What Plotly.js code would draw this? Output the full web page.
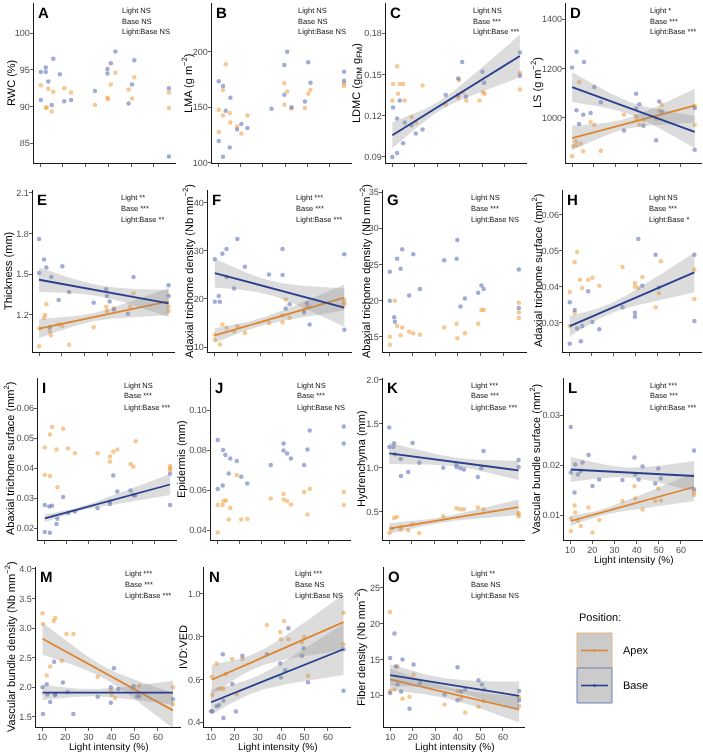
<!DOCTYPE html>
<html><head><meta charset="utf-8">
<script src="https://cdn.plot.ly/plotly-3.0.1.min.js"></script>
<style>
body{margin:0;background:#fff}
#chart{width:703px;height:752px;will-change:transform}
svg text{text-rendering:geometricPrecision}
</style>
</head><body><div id="chart"></div>
<script>
// ---------------- DATA ----------------
const LIGHT_TICKS = [10, 20, 30, 40, 50, 60];

const A_apex_x = [10.3,12.5,12.9,13.6,15.1,15.8,20.6,23.6,34.1,39.6,39.9,41.1,43.1,48.9,50.4,51.4,66.6,66.6];
const A_apex_y = [92.9,89.8,89.9,92.4,89.3,92.0,92.5,91.9,90.2,91.2,91.0,93.0,94.6,92.3,91.1,94.0,91.9,89.8];
const A_base_x = [10.3,10.3,12.5,12.5,13.6,15.1,15.8,18.7,20.6,23.6,34.1,39.6,39.6,41.1,43.1,48.9,50.4,51.4,66.6,66.6];
const A_base_y = [94.7,90.9,94.7,95.3,93.4,90.2,96.5,94.4,90.7,90.9,92.1,94.5,95.1,95.9,97.5,90.4,93.0,96.3,92.5,83.2];
const A_yticks = [85, 90, 95, 100];
const A_stats = ['Light NS', 'Base NS', 'Light:Base NS'];

const B_apex_x = [10.3,10.3,12.2,12.2,13.4,15.2,15.5,18.5,20.4,23.1,39.6,39.6,40.9,42.8,48.8,50.3,51.3,66.3,66.3];
const B_apex_y = [147.8,127.8,165.7,142.7,188.7,144.8,136.4,132.8,126.3,142.7,171.6,152.2,164.2,148.7,149.3,162.1,165.7,169.3,171.6];
const B_base_x = [10.3,10.3,12.2,12.2,13.4,15.2,15.5,18.5,20.4,23.1,33.9,39.6,39.6,40.9,42.8,48.8,50.3,51.3,66.3,66.3];
const B_base_y = [173.4,119.7,169.3,105.5,146.9,113.7,158.5,129.9,134.9,131.3,148.7,161.2,188.1,200,150.1,155.2,190.7,172.2,182.1,174.0];
const B_yticks = [100, 150, 200];
const B_stats = ['Light NS', 'Base NS', 'Light:Base NS'];

const C_apex_x = [10.1,10.4,12.2,12.6,13.4,14.9,15.6,18.6,20.5,23.5,33.8,39.3,39.7,41.2,42.9,48.8,50.3,51.0,66.7,66.7];
const C_apex_y = [0.131,0.143,0.156,0.136,0.143,0.143,0.131,0.119,0.115,0.142,0.128,0.133,0.146,0.137,0.131,0.131,0.137,0.136,0.151,0.139];
const C_base_x = [10.1,10.4,12.2,12.2,13.4,14.9,15.6,18.6,20.5,23.5,33.8,39.3,39.3,41.1,42.7,50.1,50.8,66.7,66.7];
const C_base_y = [0.0900,0.126,0.118,0.0929,0.131,0.100,0.115,0.113,0.107,0.110,0.135,0.147,0.135,0.159,0.134,0.152,0.144,0.149,0.166];
const C_base_fit = [0.1058, 0.1635, 0.0095, 0.0035, 0.0155]; // y at min x, y at max x, band half-width left / narrowest / right
const C_yticks = [0.09, 0.12, 0.15, 0.18];
const C_stats = ['Light NS', 'Base ***', 'Light:Base ***'];

const D_apex_x = [10,10.5,11.7,12,13.2,14,15.1,18.5,20.2,23.2,33.8,39.4,39.7,40.9,42.8,48.6,50,51.2,66.3,66.3];
const D_apex_y = [845,886,906,890,1145,897,866,984,973,868,1013,1007,996,973,993,996,1030,1054,973,1050];
const D_base_x = [10,12,12,13.2,15.1,15.5,18.5,20.2,23.2,33.8,39.4,39.4,40.9,42.8,48.6,50,51.2,66.3,66.3];
const D_base_y = [1204,1268,1031,976,1013,1226,1020,1125,1064,949,1098,1038,1056,969,910,1067,1026,1040,872];
const D_apex_fit = [919, 1050, 50, 20, 68];
const D_base_fit = [1125, 944, 60, 25, 65];
const D_yticks = [1000, 1200, 1400];
const D_stats = ['Light *', 'Base ***', 'Light:Base ***'];

const E_apex_x = [10,10.2,12.2,12.6,13.2,14.7,15.2,18.6,20.2,23.2,34,39.5,39.8,42.9,50,51.5,66.9,66.9];
const E_apex_y = [0.97,1.10,1.18,1.20,1.28,1.08,1.05,1.13,1.12,0.98,1.11,1.26,1.23,1.25,1.26,1.36,1.26,1.23];
const E_base_x = [10,10,12.2,13.2,14.7,15.4,18.6,20.2,23.2,34,39.5,39.8,41,42.9,49,51.5,66.9,66.9];
const E_base_y = [1.76,1.51,1.61,1.55,1.11,1.48,1.31,1.56,1.37,1.29,1.39,1.34,1.30,1.24,1.21,1.48,1.42,1.34];
const E_apex_fit = [1.10, 1.30, 0.07, 0.03, 0.10];
const E_base_fit = [1.46, 1.285, 0.09, 0.04, 0.10];
const E_yticks = [1.2, 1.5, 1.8, 2.1];
const E_stats = ['Light **', 'Base ***', 'Light:Base **'];

const F_apex_x = [10.3,10.3,12.5,13.6,15.4,18.7,20.1,23.4,33.9,39.8,39.8,41.2,42.9,49.2,50.4,51.6,66.7,66.7,66.7];
const F_apex_y = [12.6,11.5,10.5,14.7,14.0,13.3,14.3,12.9,15.0,15.1,16.6,19.9,16.1,17.7,18.2,18.4,19.2,19.8,18.9];
const F_base_x = [10.3,10.3,12,12.5,13.6,15.4,15.4,18.7,20.1,23.4,33.9,39.8,39.8,41.2,42.9,49.2,50.4,51.6,66.7,66.7];
const F_base_y = [28.3,19.4,20.6,19.4,29.4,30.4,24.6,22.2,32.5,26.7,25.1,30.4,25.0,18.0,18.9,17.2,19.1,14.7,29.3,13.6];
const F_apex_fit = [12.4, 20.3, 1.5, 0.8, 2.7];
const F_base_fit = [25.4, 18.2, 3.0, 1.5, 4.0];
const F_yticks = [10, 20, 30, 40];
const F_stats = ['Light ***', 'Base ***', 'Light:Base ***'];

const G_apex_x = [10.3,10.3,12.5,13.5,15,15.7,18.7,20.5,23.4,34,39.4,39.7,43,48.8,50.2,51.2,66.5,66.5,66.5];
const G_apex_y = [15.0,13.9,20.0,16.5,15.2,16.3,15.7,15.5,15.3,16.3,16.8,14.8,15.5,16.8,18.7,18.7,18.4,19.7,17.6];
const G_base_x = [10.3,10.3,12.2,12.5,13.5,15,15.7,18.7,20.5,23.4,34,39.4,39.7,41.1,43,48.8,50.2,51.2,66.5,66.5];
const G_base_y = [24.0,20.0,17.7,17.1,25.8,24.4,27.1,20.7,26.4,21.6,25.6,25.8,28.4,19.2,20.3,21.1,22.1,21.6,19.0,24.3];
const G_yticks = [15, 20, 25, 30, 35];
const G_stats = ['Light NS', 'Base ***', 'Light:Base NS'];

const H_apex_x = [10.3,10.3,12.5,13.6,12.5,14.9,15.9,18.6,20.5,23.6,34.1,39.7,39.7,41.2,43,49,50.5,51.4,66.5,66.5];
const H_apex_y = [0.0386,0.0291,0.0468,0.0497,0.0328,0.0420,0.0397,0.0420,0.0425,0.0403,0.0455,0.0411,0.0400,0.0397,0.0427,0.0343,0.0383,0.0471,0.0448,0.0366];
const H_base_x = [10.3,10.3,12.5,13.6,15.3,15.9,18.6,20.5,23.6,34.1,39.7,39.7,41.2,43,49,50.5,66.5,66.5];
const H_base_y = [0.0357,0.0242,0.0336,0.0284,0.0249,0.0291,0.0388,0.0302,0.0282,0.0343,0.0328,0.0317,0.0533,0.0403,0.0489,0.0398,0.0489,0.0305];
const H_base_fit = [0.0291, 0.0440, 0.0028, 0.0014, 0.0055];
const H_yticks = [0.03, 0.04, 0.05, 0.06];
const H_stats = ['Light NS', 'Base ***', 'Light:Base *'];

const I_apex_x = [10.3,10.3,12.6,12.6,13.6,15.6,16,18.6,20.8,23.9,34.1,39.7,39.7,41.2,43,49,50.2,51.3,66.8,66.8,66.8];
const I_apex_y = [0.0468,0.0377,0.0512,0.0373,0.0537,0.0462,0.0336,0.0531,0.0465,0.0449,0.0449,0.0438,0.0421,0.0454,0.0462,0.0413,0.0404,0.0489,0.0407,0.0399,0.0393];
const I_base_x = [10.3,10.3,12.3,12.6,13.6,15.6,16,18.6,20.8,23.9,34.1,39.7,39.7,41.2,43,49,50.2,51,66.8,66.8];
const I_base_y = [0.0277,0.0187,0.0272,0.0184,0.0274,0.0213,0.0231,0.0303,0.0250,0.0255,0.0266,0.0280,0.0288,0.0375,0.0322,0.0325,0.0310,0.0308,0.0381,0.0277];
const I_base_fit = [0.0232, 0.0345, 0.0013, 0.0006, 0.0035];
const I_yticks = [0.02, 0.03, 0.04, 0.05, 0.06];
const I_stats = ['Light NS', 'Base ***', 'Light:Base ***'];

const J_apex_x = [10.3,10.3,12.5,12.9,14,15.2,15.9,18.8,20.8,23.5,34,39.7,39.7,41.3,43,48.9,50.4,51.4,66.6,66.6];
const J_apex_y = [0.0388,0.0525,0.0525,0.0545,0.0548,0.0452,0.0510,0.0675,0.0452,0.0455,0.0558,0.0580,0.0552,0.0545,0.0527,0.0590,0.0478,0.0605,0.0590,0.0525];
const J_base_x = [10.3,10.3,12.5,12.7,13.7,15.2,15.9,18.8,20.8,23.5,34,39.7,39.7,41.3,43,48.9,50.4,51.4,66.6,66.6];
const J_base_y = [0.085,0.0605,0.0622,0.080,0.0775,0.0683,0.0758,0.0745,0.0666,0.0633,0.0725,0.0833,0.0797,0.0783,0.0758,0.0725,0.0803,0.0897,0.0917,0.0833];
const J_yticks = [0.04, 0.06, 0.08, 0.10];
const J_stats = ['Light NS', 'Base ***', 'Light:Base NS'];

const K_apex_x = [10.1,11.2,12.2,13.4,15.1,15.2,18.4,20.3,23.3,33.8,39.6,41.3,42.9,49,51.5,66.9,66.9,66.9];
const K_apex_y = [0.26,0.31,0.43,0.44,0.30,0.33,0.29,0.36,0.26,0.45,0.54,0.53,0.53,0.55,0.53,0.49,0.45,0.47];
const K_base_x = [10.1,10.1,11.9,12.2,12.6,15.1,15.2,18.4,20.3,23.3,33.8,39.6,39.6,41.3,42.9,49,50.5,51.5,66.9,66.9];
const K_base_y = [1.457,1.237,1.237,1.278,1.153,1.10,0.906,0.952,1.282,1.058,1.0,1.039,1.009,0.994,0.982,0.895,0.994,1.19,1.088,1.009];
const K_apex_fit = [0.31, 0.553, 0.06, 0.03, 0.09];
const K_base_fit = [1.164, 0.971, 0.12, 0.05, 0.11];
const K_yticks = [0.5, 1.0, 1.5, 2.0];
const K_stats = ['Light ***', 'Base ***', 'Light:Base ***'];

const L_apex_x = [10.3,10.3,12,12.3,13.5,14.8,18.3,20.1,23.1,33.6,39,39.4,42.7,48.4,49.8,50.9,65.9,65.9];
const L_apex_y = [0.0068,0.0093,0.0119,0.0105,0.0089,0.0078,0.0115,0.0065,0.0090,0.0128,0.0158,0.0133,0.0111,0.0128,0.0153,0.0129,0.0145,0.0140];
const L_base_x = [10.3,10.3,12,12.3,13.5,14.8,15.6,18.3,20.1,23.1,33.6,39,39.4,40.9,42.7,48.4,49.8,50.9,65.9,65.9];
const L_base_y = [0.0185,0.0276,0.0145,0.0201,0.0181,0.0188,0.0205,0.0220,0.0158,0.0171,0.0170,0.0215,0.0181,0.0171,0.0197,0.0163,0.0193,0.0173,0.0229,0.0151];
const L_apex_fit = [0.0088, 0.0156, 0.0010, 0.0006, 0.0028];
const L_base_fit = [0.0191, 0.0178, 0.0025, 0.0010, 0.0030];
const L_yticks = [0.01, 0.02, 0.03];
const L_stats = ['Light ***', 'Base ***', 'Light:Base ***'];

const M_apex_x = [10.2,10.4,12,13.5,15,15.7,18.5,20.5,23.5,34,39.7,40,41.5,49,52,66.5,66.5];
const M_apex_y = [3.25,3.07,2.2,2.35,3.12,3.17,2.45,2.9,2.9,2.18,1.95,1.87,1.82,1.98,2.03,2.0,1.72];
const M_base_x = [10.2,10.4,12,12.3,13.5,15.2,15.5,15.7,19,21,23.5,34,39.7,39.7,41,43,49.5,51,52,66.5];
const M_base_y = [2.0,1.55,2.05,1.88,1.75,2.43,1.87,1.88,2.08,1.92,1.55,1.84,2.0,1.74,2.32,1.97,2.02,1.85,1.85,1.8];
const M_apex_fit = [2.82, 1.61, 0.27, 0.10, 0.30];
const M_base_fit = [1.91, 1.91, 0.13, 0.06, 0.20];
const M_yticks = [1.5, 2.0, 2.5, 3.0, 3.5, 4.0];
const M_stats = ['Light ***', 'Base ***', 'Light:Base ***'];

const N_apex_x = [10.3,10.5,12.4,13.1,14.3,15.3,16.3,19.1,21,23.4,33.9,39.6,39.9,41.3,43.1,48.9,49.9,51.5,66.7,66.7];
const N_apex_y = [0.612,0.527,0.674,0.555,0.558,0.555,0.625,0.695,0.53,0.695,0.855,0.822,0.788,0.873,0.788,0.772,0.798,0.617,0.912,0.764];
const N_base_x = [10,10.6,12.4,13.4,15.3,15.3,15.0,19.1,20.6,23.4,33.9,39.6,39.9,41.7,43.1,48.9,49.6,51.5,66.7,66.7];
const N_base_y = [0.451,0.451,0.474,0.48,0.419,0.50,0.718,0.578,0.45,0.71,0.718,0.674,0.609,0.643,0.839,0.71,0.746,0.586,0.547,0.741];
const N_apex_fit = [0.598, 0.868, 0.07, 0.035, 0.13];
const N_base_fit = [0.493, 0.741, 0.06, 0.035, 0.12];
const N_yticks = [0.4, 0.6, 0.8, 1.0];
const N_stats = ['Light ***', 'Base NS', 'Light:Base NS'];

const O_apex_x = [10,10,11.9,13.3,15.5,18.6,20.4,34.1,39.9,41.4,43.3,49.2,51.4,67.2,67.2];
const O_apex_y = [21.6,10.6,10.8,14.0,9.5,9.8,12.9,8.7,10.6,9.5,7.6,8.4,9.2,8.5,9.7];
const O_base_x = [10,10,11.9,12.5,13.3,14.9,15.5,18.6,20.4,23.3,34.1,39.9,39.9,41.4,43.3,49.2,50.7,51.7,67.2,67.2];
const O_base_y = [15.2,10.3,18.6,14.0,11.5,10.5,15.0,8.1,14.3,11.7,10.1,13.9,9.3,10.5,10.8,12.1,11.5,10.8,10.6,9.3];
const O_apex_fit = [12.2, 8.0, 1.5, 0.8, 1.8];
const O_base_fit = [12.8, 9.9, 1.5, 0.8, 2.0];
const O_yticks = [10, 15, 20, 25];
const O_stats = ['Light **', 'Base NS', 'Light:Base NS'];

const X_TITLE = 'Light intensity (%)';
const LEGEND_TITLE = 'Position:';
const SERIES_NAMES = ['Apex', 'Base'];

// ---------------- STYLE / LAYOUT ----------------
const W = 703, H = 752;
const FONT = 'Liberation Sans, Arial, Helvetica, sans-serif';
const APEX_LINE = '#DE8530', BASE_LINE = '#283E8E';
const APEX_PT = '#EE9A3A', BASE_PT = '#5268AE';
const RIBBON = 'rgba(150,150,150,0.33)';
const px2x = p => p / W;
const py2y = p => 1 - p / H;

// [letter, apex x, apex y, base x, base y, apex fit, base fit, yticks, fmt, stats, y title, box(px: left,right,top,bottom), y range, title x px, x labels]
const P = [
 ['A',A_apex_x,A_apex_y,A_base_x,A_base_y,null,null,A_yticks,'d',A_stats,'RWC (%)',[33.6,176.3,3,163],[82.3,104.1],12,false],
 ['B',B_apex_x,B_apex_y,B_base_x,B_base_y,null,null,B_yticks,'d',B_stats,'LMA (g m<sup>−2</sup>)',[211.7,352,3,163],[99.8,244],188,false],
 ['C',C_apex_x,C_apex_y,C_base_x,C_base_y,null,C_base_fit,C_yticks,'.2f',C_stats,'LDMC (g<sub>DM</sub> g<sub>FM</sub>)',[385.7,527,3,163],[0.0856,0.202],358,false],
 ['D',D_apex_x,D_apex_y,D_base_x,D_base_y,D_apex_fit,D_base_fit,D_yticks,'d',D_stats,'LS (g m<sup>−2</sup>)',[565.9,702.4,3,163],[818,1465],537,false],
 ['E',E_apex_x,E_apex_y,E_base_x,E_base_y,E_apex_fit,E_base_fit,E_yticks,'.1f',E_stats,'Thickness (mm)',[32.6,175.3,190,352],[0.927,2.122],9,false],
 ['F',F_apex_x,F_apex_y,F_base_x,F_base_y,F_apex_fit,F_base_fit,F_yticks,'d',F_stats,'Adaxial trichome density (Nb mm<sup>−2</sup>)',[207.6,351.5,190,352],[8.96,42.7],188,false],
 ['G',G_apex_x,G_apex_y,G_base_x,G_base_y,null,null,G_yticks,'d',G_stats,'Abaxial trichome density (Nb mm<sup>−2</sup>)',[382.6,526.5,190,352],[12.9,35.3],365,false],
 ['H',H_apex_x,H_apex_y,H_base_x,H_base_y,null,H_base_fit,H_yticks,'.2f',H_stats,'Adaxial trichome surface (mm<sup>2</sup>)',[562.8,701.8,190,352],[0.0219,0.0669],537,false],
 ['I',I_apex_x,I_apex_y,I_base_x,I_base_y,null,I_base_fit,I_yticks,'.2f',I_stats,'Abaxial trichome surface (mm<sup>2</sup>)',[37.8,176.8,378,540],[0.016,0.070],9,false],
 ['J',J_apex_x,J_apex_y,J_base_x,J_base_y,null,null,J_yticks,'.2f',J_stats,'Epidermis (mm)',[210.7,351,378,540],[0.035,0.116],182,false],
 ['K',K_apex_x,K_apex_y,K_base_x,K_base_y,K_apex_fit,K_base_fit,K_yticks,'.1f',K_stats,'Hydrenchyma (mm)',[382.6,525.3,378,540],[0.18,2.02],362,false],
 ['L',L_apex_x,L_apex_y,L_base_x,L_base_y,L_apex_fit,L_base_fit,L_yticks,'.2f',L_stats,'Vascular bundle surface (mm<sup>2</sup>)',[563.8,702.8,378,540],[0.005,0.0374],535,true],
 ['M',M_apex_x,M_apex_y,M_base_x,M_base_y,M_apex_fit,M_base_fit,M_yticks,'.1f',M_stats,'Vascular bundle density (Nb mm<sup>−2</sup>)',[35.5,180.7,567,727],[1.33,4.03],10,true],
 ['N',N_apex_x,N_apex_y,N_base_x,N_base_y,N_apex_fit,N_base_fit,N_yticks,'.1f',N_stats,'IVD:VED',[204.4,350.9,567,727],[0.377,1.126],184,true],
 ['O',O_apex_x,O_apex_y,O_base_x,O_base_y,O_apex_fit,O_base_fit,O_yticks,'d',O_stats,'Fiber density (Nb mm<sup>−2</sup>)',[383.7,525.1,567,727],[5.56,27.9],360,true],
];

const traces = [], annotations = [], shapes = [];
const layout = {
  width: W, height: H, margin: {l:0, r:0, t:0, b:0},
  paper_bgcolor: 'rgba(255,255,255,0)', plot_bgcolor: 'rgba(0,0,0,0)',
  showlegend: false, font: {family: FONT, color: '#000'},
  annotations, shapes
};

function fitBand(xs, fit) {
  const x0 = Math.min(...xs), x1 = Math.max(...xs);
  const [ya, yb, hL, h0, hR] = fit;
  const a = Math.max(hL*hL - h0*h0, 1e-14), b = Math.max(hR*hR - h0*h0, 1e-14);
  const r = Math.sqrt(a / b);
  const xb = (x0 + r * x1) / (1 + r);
  const k = a / Math.pow(xb - x0, 2);
  const up = [], lo = [], gx = [];
  const n = 60;
  for (let i = 0; i <= n; i++) {
    const x = x0 + (x1 - x0) * i / n;
    const yc = ya + (yb - ya) * (x - x0) / (x1 - x0);
    const hw = Math.sqrt(h0*h0 + k * (x - xb) * (x - xb));
    gx.push(x); up.push(yc + hw); lo.push(yc - hw);
  }
  return {band: {x: gx.concat(gx.slice().reverse()), y: up.concat(lo.slice().reverse())},
          line: {x: [x0, x1], y: [ya, yb]}};
}

P.forEach((p, i) => {
  const [L, ax, ay, bx, by, af, bf, yt, fmt, stats, ytitle, box, yr, tx, xlab] = p;
  const n = i + 1;
  const xa = 'x' + (n === 1 ? '' : n), ya = 'y' + (n === 1 ? '' : n);
  const xk = 'xaxis' + (n === 1 ? '' : n), yk = 'yaxis' + (n === 1 ? '' : n);
  const [l, r, t, b] = box;
  layout[xk] = {
    domain: [px2x(l), px2x(r)], anchor: ya, range: [7.15, 69.85],
    showline: true, linecolor: '#1a1a1a', linewidth: 1, mirror: false,
    showgrid: false, zeroline: false, ticks: 'outside', ticklen: 3, tickwidth: 0.8, tickcolor: '#333',
    tickvals: LIGHT_TICKS, showticklabels: xlab, ticklabelstandoff: -2,
    tickfont: {family: FONT, size: 9, color: '#4D4D4D'}, fixedrange: true
  };
  layout[yk] = {
    domain: [py2y(b), py2y(t)], anchor: xa, range: yr,
    showline: true, linecolor: '#1a1a1a', linewidth: 1,
    showgrid: false, zeroline: false, ticks: 'outside', ticklen: 3, tickwidth: 0.8, tickcolor: '#333',
    tickvals: yt, tickformat: fmt, ticklabelstandoff: -2,
    tickfont: {family: FONT, size: 9, color: '#4D4D4D'}, fixedrange: true
  };
  traces.push({type: 'scatter', mode: 'markers', x: ax, y: ay, xaxis: xa, yaxis: ya,
    marker: {size: 4.5, color: APEX_PT, opacity: 0.55}, hoverinfo: 'skip'});
  traces.push({type: 'scatter', mode: 'markers', x: bx, y: by, xaxis: xa, yaxis: ya,
    marker: {size: 4.5, color: BASE_PT, opacity: 0.55}, hoverinfo: 'skip'});
  [[ax, af, APEX_LINE], [bx, bf, BASE_LINE]].forEach(([xs, f, col]) => {
    if (!f) return;
    const fb = fitBand(xs, f);
    traces.push({type: 'scatter', mode: 'lines', x: fb.band.x, y: fb.band.y, xaxis: xa, yaxis: ya,
      fill: 'toself', fillcolor: RIBBON, line: {width: 0}, hoverinfo: 'skip'});
    traces.push({type: 'scatter', mode: 'lines', x: fb.line.x, y: fb.line.y, xaxis: xa, yaxis: ya,
      line: {color: col, width: 1.8}, hoverinfo: 'skip'});
  });
  annotations.push({text: '<b>' + L + '</b>', xref: 'paper', yref: 'paper', x: px2x(l + 2.5), y: py2y(t + 10.5),
    xanchor: 'left', yanchor: 'middle', showarrow: false, font: {family: FONT, size: 15, color: '#000'}});
  const off = t > 560 ? [6, 17, 28] : [7, 18, 29];
  stats.forEach((s, j) => {
    annotations.push({text: s, xref: xa, yref: 'paper', x: 45, y: py2y(t + off[j]),
      xanchor: 'left', yanchor: 'middle', showarrow: false, font: {family: FONT, size: 7.5, color: '#111'}});
  });
  annotations.push({text: ytitle, xref: 'paper', yref: 'paper', x: px2x(tx), y: py2y((t + b) / 2),
    xanchor: 'center', yanchor: 'middle', textangle: -90, showarrow: false,
    font: {family: FONT, size: 11, color: '#000'}});
  if (xlab) {
    const ty = (L === 'L') ? 560 : 747;
    annotations.push({text: X_TITLE, xref: 'paper', yref: 'paper', x: px2x((l + r) / 2), y: py2y(ty),
      xanchor: 'center', yanchor: 'middle', showarrow: false, font: {family: FONT, size: 10, color: '#000'}});
  }
});

// ---- legend (drawn manually) ----
annotations.push({text: LEGEND_TITLE, xref: 'paper', yref: 'paper', x: px2x(577), y: py2y(618),
  xanchor: 'left', yanchor: 'middle', showarrow: false, font: {family: FONT, size: 11, color: '#000'}});
[[633, 668, '#EDB27A', APEX_LINE, SERIES_NAMES[0]], [668, 703, '#7082B8', BASE_LINE, SERIES_NAMES[1]]].forEach(([y0, y1, bc, lc, name]) => {
  shapes.push({type: 'rect', xref: 'paper', yref: 'paper', x0: px2x(577), x1: px2x(612), y0: py2y(y1), y1: py2y(y0),
    fillcolor: '#CBCBCB', line: {color: bc, width: 1}});
  const ym = (y0 + y1) / 2;
  shapes.push({type: 'line', xref: 'paper', yref: 'paper', x0: px2x(581), x1: px2x(608), y0: py2y(ym), y1: py2y(ym),
    line: {color: lc, width: 1.6}});
  shapes.push({type: 'circle', xref: 'paper', yref: 'paper', x0: px2x(593.2), x1: px2x(595.8), y0: py2y(ym + 1.3), y1: py2y(ym - 1.3),
    fillcolor: lc, line: {width: 0}});
  annotations.push({text: name, xref: 'paper', yref: 'paper', x: px2x(621), y: py2y(ym),
    xanchor: 'left', yanchor: 'middle', showarrow: false, font: {family: FONT, size: 11, color: '#000'}});
});

Plotly.newPlot('chart', traces, layout, {staticPlot: true, displayModeBar: false});
</script>
</body></html>
